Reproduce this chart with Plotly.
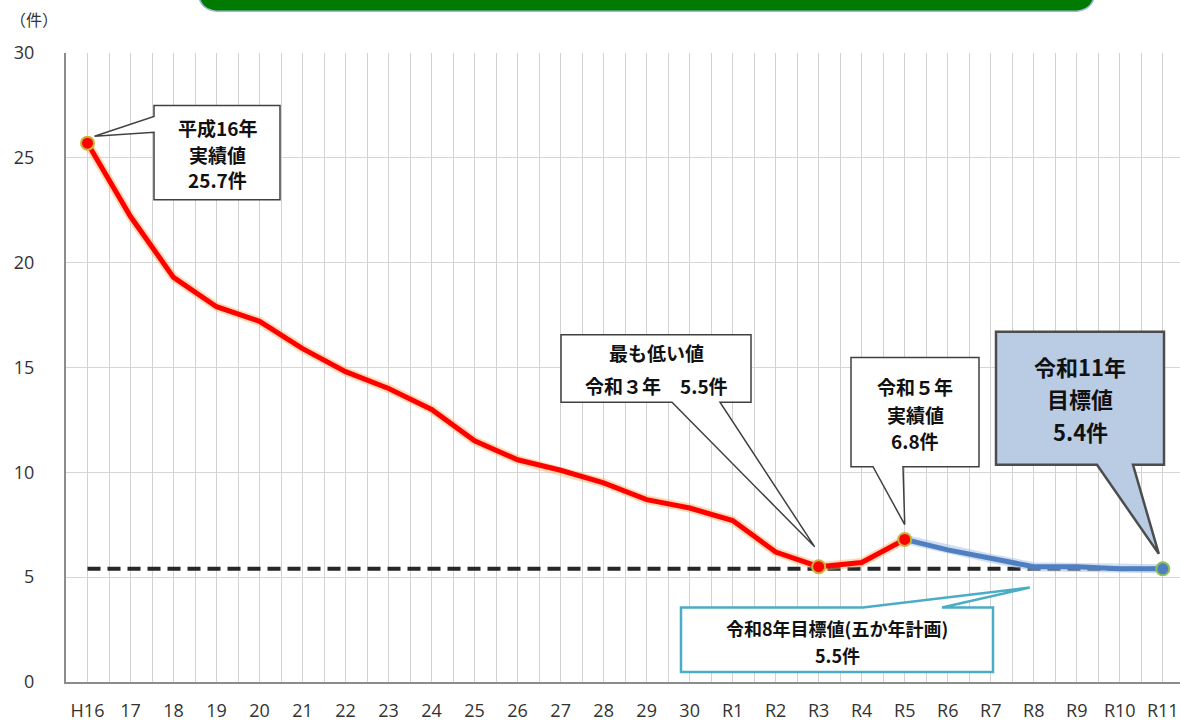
import plotly.graph_objects as go

# ---- data -------------------------------------------------------------
years = ["H16", "17", "18", "19", "20", "21", "22", "23", "24", "25", "26",
         "27", "28", "29", "30", "R1", "R2", "R3", "R4", "R5", "R6", "R7",
         "R8", "R9", "R10", "R11"]
actual = [25.7, 22.2, 19.3, 17.9, 17.2, 15.9, 14.8, 14.0, 13.0, 11.5, 10.6,
          10.1, 9.5, 8.7, 8.3, 7.7, 6.2, 5.5, 5.7, 6.8]          # H16 .. R5
plan_years = ["R5", "R6", "R7", "R8", "R9", "R10", "R11"]
plan = [6.8, 6.3, 5.9, 5.5, 5.5, 5.4, 5.4]                       # R5 .. R11
goal_r11 = 5.4
y_ticks = [0, 5, 10, 15, 20, 25, 30]

idx = {y: i for i, y in enumerate(years)}
x_actual = [idx[y] for y in years[:len(actual)]]
x_plan = [idx[y] for y in plan_years]

W, H = 1180, 722
ML, MR, MT, MB = 66, 0, 53, 35
XR = [-0.5, 25.4]
YR = [0, 30]
pw, ph = W - ML - MR, H - MT - MB


def dx(px):
    """pixel column -> x data value"""
    return XR[0] + (px - ML) / pw * (XR[1] - XR[0])


def dy(py):
    """pixel row -> y data value"""
    return YR[0] + (H - MB - py) / ph * (YR[1] - YR[0])


def to_px(xv, yv):
    return (ML + (xv - XR[0]) / (XR[1] - XR[0]) * pw,
            H - MB - (yv - YR[0]) / (YR[1] - YR[0]) * ph)


def path(points):
    return "M " + " L ".join(f"{dx(a):.4f},{dy(b):.4f}" for a, b in points) + " Z"


fig = go.Figure()

# target level (dashed)
fig.add_trace(go.Scatter(x=[idx["H16"], idx["R11"]], y=[goal_r11, goal_r11],
                         mode="lines", line=dict(color="#262626", width=4, dash="13px,7px"),
                         hoverinfo="skip"))
# soft halo under the lines
fig.add_trace(go.Scatter(x=x_actual, y=actual, mode="lines",
                         line=dict(color="rgba(255,170,90,0.45)", width=9),
                         hoverinfo="skip"))
fig.add_trace(go.Scatter(x=x_plan, y=plan, mode="lines",
                         line=dict(color="rgba(160,190,230,0.5)", width=9),
                         hoverinfo="skip"))
# actual results
fig.add_trace(go.Scatter(x=x_actual, y=actual, mode="lines",
                         line=dict(color="#FF0000", width=5)))
# planned path
fig.add_trace(go.Scatter(x=x_plan, y=plan, mode="lines",
                         line=dict(color="#4F7FC1", width=5)))
# highlighted points
hl = ["H16", "R3", "R5"]
fig.add_trace(go.Scatter(x=[idx[k] for k in hl], y=[actual[idx[k]] for k in hl],
                         mode="markers",
                         marker=dict(color="#FF0000", size=13,
                                     line=dict(color="#C8B43C", width=2))))
fig.add_trace(go.Scatter(x=[idx["R11"]], y=[plan[-1]], mode="markers",
                         marker=dict(color="#4F7FC1", size=13,
                                     line=dict(color="#8DC05A", width=2))))

shapes = []
annos = []
JP = "Noto Sans CJK JP"


def callout(box, wedge, tip, fill="#FFFFFF", border="#404040", bw=1.5):
    x0, y0, x1, y1 = box
    side, b1, b2 = wedge
    tx, ty = tip
    if side == "bottom":
        pts = [(x0, y0), (x1, y0), (x1, y1), (b2, y1), (tx, ty), (b1, y1), (x0, y1)]
    elif side == "left":
        pts = [(x0, y0), (x1, y0), (x1, y1), (x0, y1), (x0, b2), (tx, ty), (x0, b1)]
    else:  # top
        pts = [(x0, y0), (b1, y0), (tx, ty), (b2, y0), (x1, y0), (x1, y1), (x0, y1)]
    shapes.append(dict(type="path", xref="x", yref="y", path=path(pts),
                       fillcolor=fill, line=dict(color=border, width=bw), layer="above"))


def lines(cx, rows, size, color="#111111"):
    for text, py in rows:
        annos.append(dict(x=dx(cx), y=dy(py), xref="x", yref="y", text=f"<b>{text}</b>",
                          showarrow=False, xanchor="center", yanchor="middle",
                          font=dict(family=JP, size=size, color=color)))


# H16 result
px, py = to_px(idx["H16"], actual[0])
callout((154, 106, 280, 201), ("left", 117, 133), (px + 7, py - 7))
lines(217, [("平成16年", 128), ("実績値", 155), ("25.7件", 181)], 19)

# lowest value R3
px, py = to_px(idx["R3"], actual[idx["R3"]])
callout((561, 337, 751, 405), ("bottom", 672, 720), (px - 4, py - 20))
lines(656, [("最も低い値", 355), ("令和３年　5.5件", 388)], 19)

# R5 result
px, py = to_px(idx["R5"], actual[idx["R5"]])
callout((851, 360, 979, 470), ("bottom", 873, 903), (px, py - 15))
lines(915, [("令和５年", 389), ("実績値", 417), ("6.8件", 444)], 19)

# R11 goal
px, py = to_px(idx["R11"], plan[-1])
callout((996, 334, 1164, 468), ("bottom", 1097, 1133), (px - 4, py - 15),
        fill="#B9CCE4", border="#4D4D4D", bw=2.5)
lines(1080, [("令和11年", 368), ("目標値", 401), ("5.4件", 434)], 22)

# R8 five-year plan goal
px, py = to_px(idx["R8"], 5.5)
callout((681, 612, 993, 677), ("top", 863, 942), (px - 4, py + 21),
        border="#4BACC6", bw=2.5)
lines(837, [("令和8年目標値(五か年計画)", 633), ("5.5件", 660)], 18)


# banner strip at the top edge
def ppx(px):
    return (px - ML) / pw


def ppy(py):
    return (H - MB - py) / ph


bx0, bx1, by0, by1, r = 198, 1095, -30, 11, 22
banner = (f"M {ppx(bx0)},{ppy(by0)} L {ppx(bx0)},{ppy(by1 - r)} "
          f"Q {ppx(bx0)},{ppy(by1)} {ppx(bx0 + r)},{ppy(by1)} "
          f"L {ppx(bx1 - r)},{ppy(by1)} Q {ppx(bx1)},{ppy(by1)} {ppx(bx1)},{ppy(by1 - r)} "
          f"L {ppx(bx1)},{ppy(by0)} Z")
shapes.append(dict(type="path", xref="paper", yref="paper", path=banner,
                   fillcolor="#007A00", line=dict(color="#9DB8DC", width=1.5)))

annos.append(dict(x=ppx(8), y=ppy(19), xref="paper", yref="paper", text="（件）",
                  showarrow=False, xanchor="left", yanchor="middle",
                  font=dict(family=JP, size=16, color="#333333")))

fig.update_layout(
    width=W, height=H,
    margin=dict(l=ML, r=MR, t=MT, b=MB),
    plot_bgcolor="#FFFFFF", paper_bgcolor="#FFFFFF",
    showlegend=False,
    shapes=shapes, annotations=annos,
    xaxis=dict(range=XR, tickmode="array", tickvals=list(range(len(years))),
               ticktext=years, showgrid=True, gridcolor="#D2D2D2", gridwidth=1,
               minor=dict(tickmode="linear", tick0=-0.5, dtick=1, showgrid=True,
                          gridcolor="#D2D2D2", gridwidth=1),
               showline=True, linecolor="#8C8C8C", linewidth=2, zeroline=False,
               ticks="", ticklabelstandoff=11,
               tickfont=dict(family="Open Sans", size=18, color="#333333")),
    yaxis=dict(range=YR, tickmode="array", tickvals=y_ticks,
               showgrid=True, gridcolor="#D6D6D6", gridwidth=1,
               showline=True, linecolor="#8C8C8C", linewidth=2, zeroline=False,
               ticks="", ticklabelstandoff=26,
               tickfont=dict(family="Open Sans", size=18, color="#333333")),
)

fig.write_html("out.html")
